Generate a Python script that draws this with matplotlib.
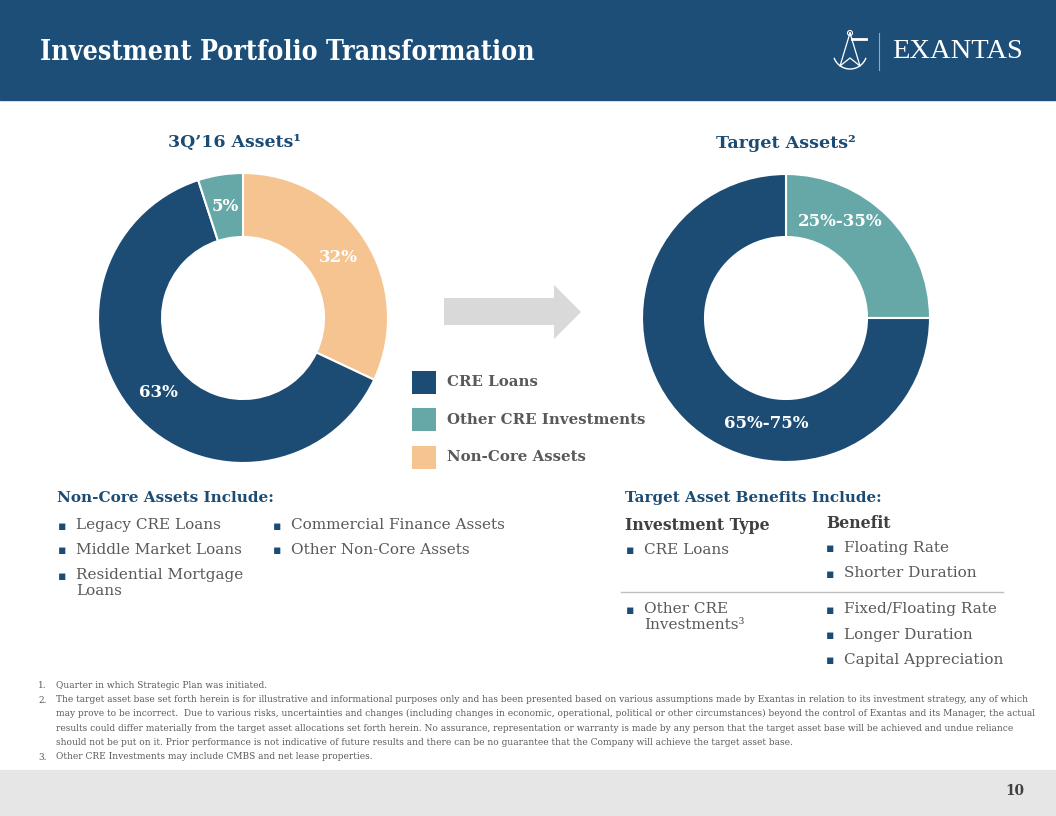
import math
import matplotlib.pyplot as plt
from matplotlib.patches import Rectangle, Polygon, Arc, Circle

# colours
NAVY = '#1c4c74'
TEAL = '#66a8a8'
PEACH = '#f5c490'
GRAY_TXT = '#595959'
DARK_TXT = '#404040'

SERIF = 'DejaVu Serif'

# data
categories = ['CRE Loans', 'Other CRE Investments', 'Non-Core Assets']
q316_order = ['Non-Core Assets', 'CRE Loans', 'Other CRE Investments']
q316_values = [32, 63, 5]
q316_labels = ['32%', '63%', '5%']
target_order = ['Other CRE Investments', 'CRE Loans']
target_values = [25, 75]
target_labels = ['25%-35%', '65%-75%']

noncore_col1 = ['Legacy CRE Loans', 'Middle Market Loans', 'Residential Mortgage\nLoans']
noncore_col2 = ['Commercial Finance Assets', 'Other Non-Core Assets']
cre_benefits = ['Floating Rate', 'Shorter Duration']
other_benefits = ['Fixed/Floating Rate', 'Longer Duration', 'Capital Appreciation']

footnotes = [
    ('1.', 'Quarter in which Strategic Plan was initiated.'),
    ('2.', 'The target asset base set forth herein is for illustrative and informational purposes only and has been presented based on various assumptions made by Exantas in relation to its investment strategy, any of which\n'
           'may prove to be incorrect.  Due to various risks, uncertainties and changes (including changes in economic, operational, political or other circumstances) beyond the control of Exantas and its Manager, the actual\n'
           'results could differ materially from the target asset allocations set forth herein. No assurance, representation or warranty is made by any person that the target asset base will be achieved and undue reliance\n'
           'should not be put on it. Prior performance is not indicative of future results and there can be no guarantee that the Company will achieve the target asset base.'),
    ('3.', 'Other CRE Investments may include CMBS and net lease properties.'),
]

colour_of = {'CRE Loans': NAVY, 'Other CRE Investments': TEAL, 'Non-Core Assets': PEACH}

fig = plt.figure(figsize=(10.56, 8.16), dpi=100)
ax = fig.add_axes([0, 0, 1, 1])

# header and footer bars
ax.add_patch(Rectangle((0, 0), 1056, 100, color='#1d4e77', zorder=0))
ax.add_patch(Rectangle((0, 770), 1056, 46, color='#e6e6e6', zorder=0))
ax.text(40, 52, 'Investment Portfolio Transformation', color='white', fontsize=19.2,
        fontweight='bold', family=SERIF, stretch='condensed', va='center', ha='left')
ax.text(1024, 791, '10', color=DARK_TXT, fontsize=11, fontweight='bold', family=SERIF,
        stretch='condensed', va='center', ha='right')

# logo
ax.plot([879, 879], [33, 70], color='#8fa9c0', lw=0.8)
ax.text(892, 51, 'EXANTAS', color='white', fontsize=20.5, family='Liberation Serif', va='center', ha='left')
ax.add_patch(Arc((850, 52), 34, 34, theta1=20, theta2=160, color='white', lw=1))
ax.plot([850, 840, 850, 860, 850], [33, 66, 58, 66, 33], color='white', lw=0.9)
ax.add_patch(Circle((850, 33), 2.5, fill=False, ec='white', lw=0.8))
ax.plot([852, 866], [39, 39], color='white', lw=2)

# donuts
w1, _ = ax.pie(q316_values, colors=[colour_of[c] for c in q316_order], radius=145, center=(243, 318),
               startangle=-90, counterclock=True,
               wedgeprops=dict(width=64, edgecolor='white', linewidth=1.5))
w2, _ = ax.pie(target_values, colors=[colour_of[c] for c in target_order], radius=144, center=(786, 318),
               startangle=-90, counterclock=True,
               wedgeprops=dict(width=63, edgecolor='white', linewidth=1.5))

for wedge, lab in zip(w1, q316_labels):
    ang = math.radians((wedge.theta1 + wedge.theta2) / 2)
    x = 243 + 113 * math.cos(ang)
    y = 318 + 113 * math.sin(ang)
    ax.text(x, y, lab, color='white', fontsize=12, fontweight='bold', family=SERIF, ha='center', va='center')
for pos, lab in zip([(840, 222), (766, 424)], target_labels):
    ax.text(pos[0], pos[1], lab, color='white', fontsize=12, fontweight='bold', family=SERIF, ha='center', va='center')

ax.text(235, 143, '3Q’16 Assets¹', color=NAVY, fontsize=12.5, fontweight='bold', family=SERIF, ha='center', va='center')
ax.text(786, 143, 'Target Assets²', color=NAVY, fontsize=12.6, fontweight='bold', family=SERIF, ha='center', va='center')

# arrow
ax.add_patch(Polygon([(444, 298), (554, 298), (554, 285), (581, 312), (554, 339), (554, 325), (444, 325)],
                     closed=True, color='#d9d9d9', lw=0))

# legend
for i, c in enumerate(categories):
    y = 382 + i * 37.5
    ax.add_patch(Rectangle((412, y - 11.5), 24, 23, color=colour_of[c], lw=0))
    ax.text(447, y, c, color=GRAY_TXT, fontsize=10.8, fontweight='bold', family=SERIF, va='center', ha='left')

# bullet helper
def bullet(x, y, s, size=11):
    ax.text(x, y, '▪', color=NAVY, fontsize=9, family='DejaVu Sans', va='center', ha='center')
    ax.text(x + 14, y - 8, s, color=GRAY_TXT, fontsize=size, family=SERIF, va='top', ha='left',
            linespacing=1.2)

ax.text(57, 498, 'Non-Core Assets Include:', color=NAVY, fontsize=11, fontweight='bold', family=SERIF, va='center')
for i, s in enumerate(noncore_col1):
    bullet(62, 526 + 25 * i, s)
for i, s in enumerate(noncore_col2):
    bullet(277, 526 + 25 * i, s)

ax.text(625, 498, 'Target Asset Benefits Include:', color=NAVY, fontsize=10.9, fontweight='bold', family=SERIF, va='center')
ax.text(625, 526, 'Investment Type', color=DARK_TXT, fontsize=11.3, fontweight='bold', family=SERIF, va='center')
ax.text(826, 523, 'Benefit', color=DARK_TXT, fontsize=11.3, fontweight='bold', family=SERIF, va='center')
bullet(630, 551, 'CRE Loans')
bullet(630, 610, 'Other CRE\nInvestments³')
for i, s in enumerate(cre_benefits):
    bullet(830, 549 + 25 * i, s)
for i, s in enumerate(other_benefits):
    bullet(830, 610 + 25.5 * i, s)
ax.plot([621, 1003], [592, 592], color='#bfbfbf', lw=1)

# footnotes
y = 686
for num, txt in footnotes:
    ax.text(38, y, num, color=GRAY_TXT, fontsize=7.2, family=SERIF, stretch='condensed', va='center')
    ax.text(56, y - 5.5, txt, color=GRAY_TXT, fontsize=7.2, family=SERIF, stretch='condensed', va='top',
            linespacing=1.78)
    y += 14.3 * (txt.count('\n') + 1)

ax.set_xlim(0, 1056)
ax.set_ylim(816, 0)
ax.set_aspect('auto')
ax.axis('off')
fig.savefig('out.png', dpi=100)
